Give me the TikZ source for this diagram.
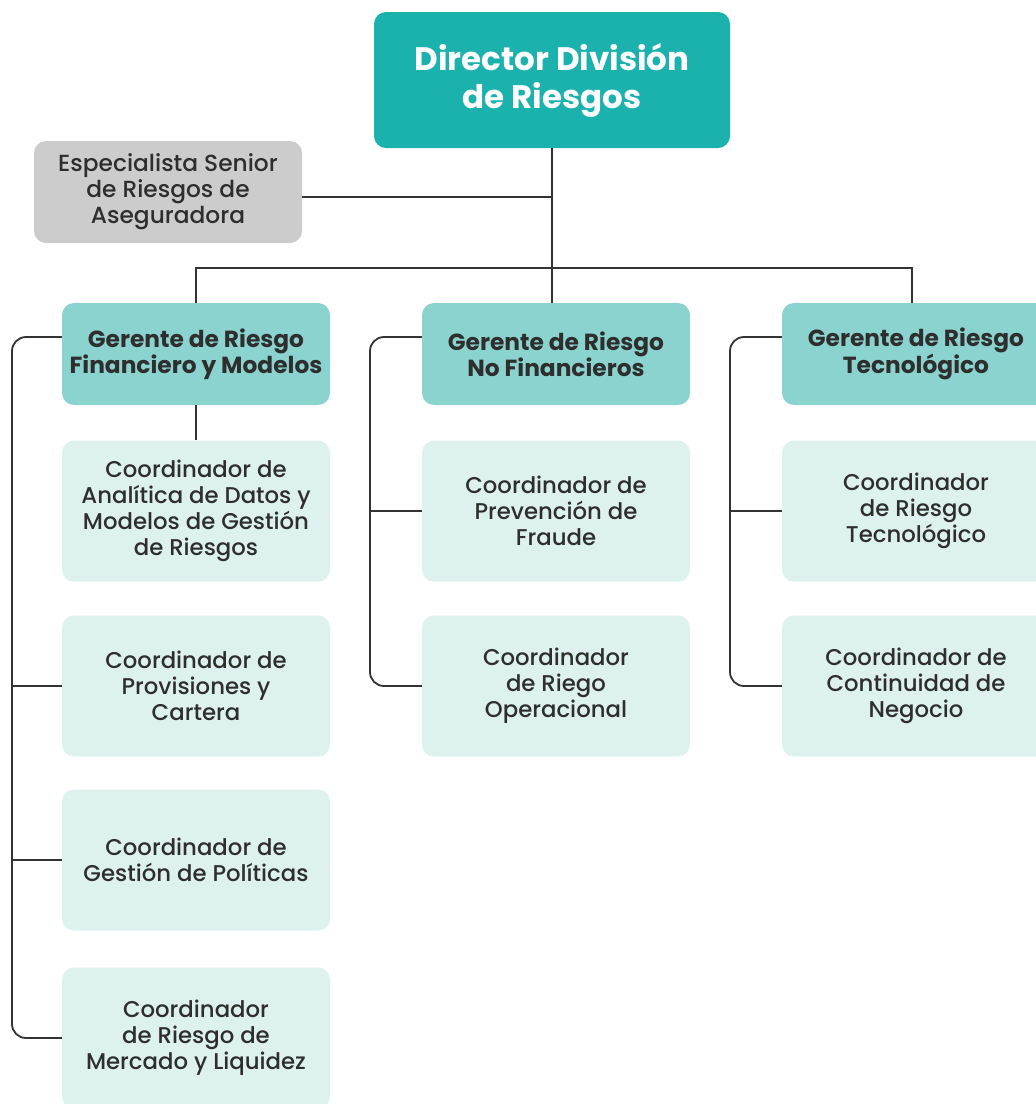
\documentclass[tikz,border=0pt]{standalone}
\usepackage{fontspec}
\setmainfont{Poppins}[UprightFont=* Medium,BoldFont=* Bold]
\usetikzlibrary{calc}
\definecolor{dirc}{HTML}{1BB1AD}
\definecolor{mgrc}{HTML}{8AD3CE}
\definecolor{crdc}{HTML}{DDF2EF}
\definecolor{grayc}{HTML}{CCCCCC}
\definecolor{txtc}{HTML}{2E2E2E}
\definecolor{linec}{HTML}{333333}
\begin{document}
\begin{tikzpicture}[x=1pt,y=-1pt,
  box/.style={rounded corners=12pt,inner sep=0pt,align=center,text=txtc},
  dirbox/.style={box,fill=dirc,minimum width=356pt,minimum height=136pt,text=white,font=\fontsize{32.5}{38}\selectfont\bfseries},
  espbox/.style={box,fill=grayc,minimum width=268pt,minimum height=102pt,font=\fontsize{23.3}{26}\selectfont},
  mgrbox/.style={box,fill=mgrc,minimum width=268pt,minimum height=102pt,font=\fontsize{23.3}{25}\selectfont\bfseries},
  crdbox/.style={box,fill=crdc,minimum width=268pt,minimum height=141pt,font=\fontsize{22.8}{26}\selectfont},
  conn/.style={draw=linec,line width=1.8pt,rounded corners=14pt}]
\useasboundingbox (0,0) rectangle (1036,1104);
\node[dirbox] (dir) at (552,80) {Director División\\de Riesgos};
\node[espbox] (esp) at (168,192) {Especialista Senior\\de Riesgos de\\Aseguradora};
\node[mgrbox] (m1) at (196,354) {Gerente de Riesgo\\Financiero y Modelos};
\node[mgrbox] (m2) at (556,354) {Gerente de Riesgo\\No Financieros};
\node[mgrbox] (m3) at (916,354) {Gerente de Riesgo\\Tecnológico};
\node[crdbox] (c11) at (196,511) {Coordinador de\\Analítica de Datos y\\Modelos de Gestión\\de Riesgos};
\node[crdbox] (c12) at (196,686) {Coordinador de\\Provisiones y\\Cartera};
\node[crdbox] (c13) at (196,860) {Coordinador de\\Gestión de Políticas};
\node[crdbox] (c14) at (196,1038) {Coordinador\\de Riesgo de\\Mercado y Liquidez};
\node[crdbox] (c21) at (556,511) {Coordinador de\\Prevención de\\Fraude};
\node[crdbox] (c22) at (556,686) {Coordinador\\de Riego\\Operacional};
\node[crdbox] (c31) at (916,511) {Coordinador\\de Riesgo\\Tecnológico};
\node[crdbox] (c32) at (916,686) {Coordinador de\\Continuidad de\\Negocio};
\coordinate (r1) at (12,0);
\coordinate (r2) at (370,0);
\coordinate (r3) at (730,0);
% director links
\draw[conn] (dir.south) -- (dir.south |- m2.north);
\draw[conn,rounded corners=0pt] ([yshift=-5pt]esp.east) -- ([yshift=-5pt]esp.east -| dir.south);
\draw[conn,rounded corners=0pt] (m1.north) -- ++(0,-35) -| ([xshift=-4pt]m3.north);
\draw[conn] (m1.south) -- (c11.north);
% column brackets
\draw[conn] ([yshift=17pt]m1.west) -| (r1 |- c14.west) -- (c14.west);
\draw[conn] (c12.west) -- (c12.west -| r1);
\draw[conn] (c13.west) -- (c13.west -| r1);
\draw[conn] ([yshift=17pt]m2.west) -| (r2 |- c22.west) -- (c22.west);
\draw[conn] (c21.west) -- (c21.west -| r2);
\draw[conn] ([yshift=17pt]m3.west) -| (r3 |- c32.west) -- (c32.west);
\draw[conn] (c31.west) -- (c31.west -| r3);
\end{tikzpicture}
\end{document}
